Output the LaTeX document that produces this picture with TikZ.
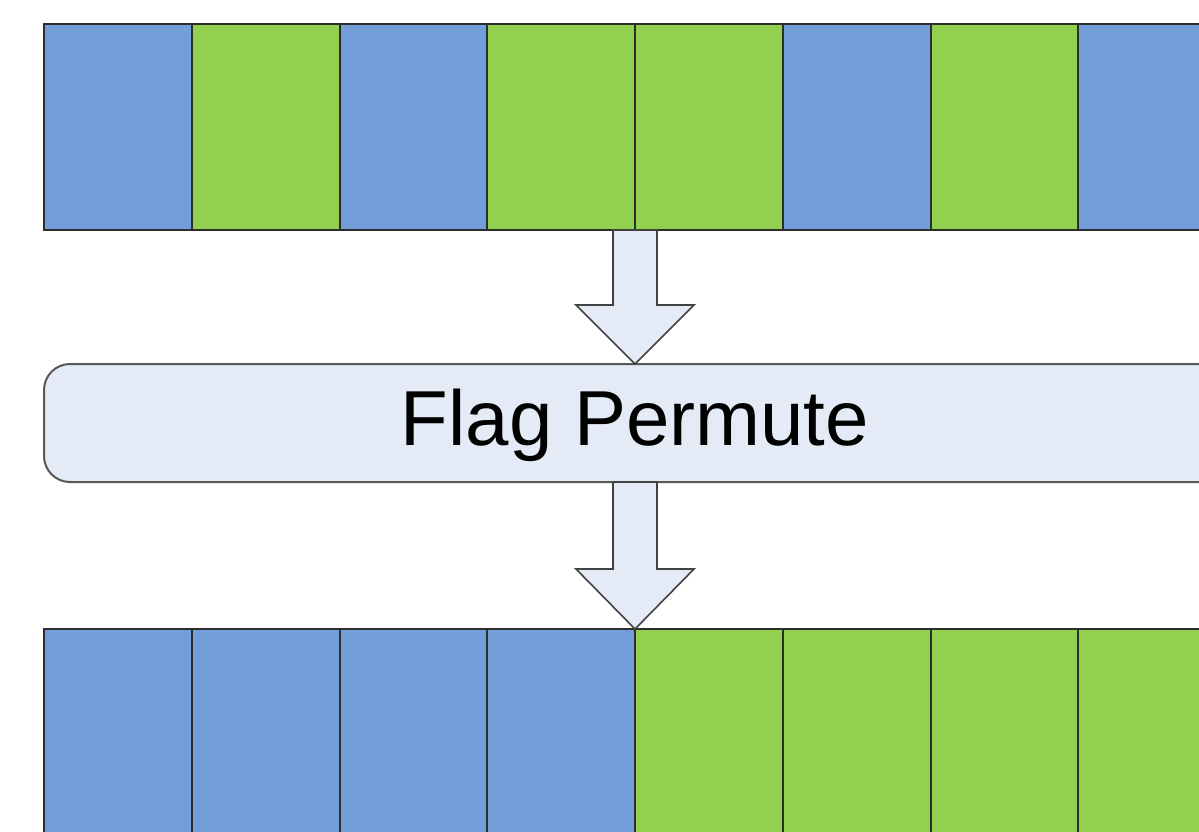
\documentclass[tikz,border=0pt]{standalone}
\usepackage{fontspec}
\setmainfont{Liberation Sans}
\usetikzlibrary{calc}
\definecolor{cblue}{RGB}{114,159,218}
\definecolor{cgreen}{RGB}{146,208,80}
\definecolor{cpale}{RGB}{229,235,246}
\definecolor{cedge}{RGB}{45,45,45}
\tikzset{
  cell/.style={draw=cedge, line width=2pt, minimum width=147.75pt, minimum height=206pt, inner sep=0pt, anchor=north west, outer sep=0pt},
  bluecell/.style={cell, fill=cblue},
  greencell/.style={cell, fill=cgreen},
  permbox/.style={draw=cedge!80, line width=2pt, fill=cpale, rounded corners=26pt, minimum width=1182pt, minimum height=118pt, anchor=north west, inner sep=0pt, outer sep=0pt},
  label/.style={font=\fontsize{78}{90}\selectfont, anchor=base, inner sep=0pt},
  blockarrow/.style={draw=cedge!90, line width=1.6pt, fill=cpale, line join=miter}
}
\begin{document}
\begin{tikzpicture}[x=1pt,y=-1pt]
\useasboundingbox (0,0) rectangle (1199,831);
\clip (0,0) rectangle (1199,831);
\fill[white] (0,0) rectangle (1199,831);
% top row
\node[bluecell]  (t1) at (44,24) {};
\node[greencell] (t2) at (191.75,24) {};
\node[bluecell]  (t3) at (339.5,24) {};
\node[greencell] (t4) at (487.25,24) {};
\node[greencell] (t5) at (635,24) {};
\node[bluecell]  (t6) at (782.75,24) {};
\node[greencell] (t7) at (930.5,24) {};
\node[bluecell]  (t8) at (1078.25,24) {};
% box
\node[permbox] (flag) at (44,364) {};
\node[label] (flagtext) at (635,445) {Flag Permute};
% bottom row
\node[bluecell]  (b1) at (44,629) {};
\node[bluecell]  (b2) at (191.75,629) {};
\node[bluecell]  (b3) at (339.5,629) {};
\node[bluecell]  (b4) at (487.25,629) {};
\node[greencell] (b5) at (635,629) {};
\node[greencell] (b6) at (782.75,629) {};
\node[greencell] (b7) at (930.5,629) {};
\node[greencell] (b8) at (1078.25,629) {};
% arrows
\coordinate (a1top) at (t4.south east);
\coordinate (a1tip) at (a1top |- flag.north);
\draw[blockarrow] ($(a1top)+(-22,0)$) -- ($(a1top)+(22,0)$) -- ($(a1top)+(22,75)$) -- ($(a1top)+(59,75)$) -- (a1tip) -- ($(a1top)+(-59,75)$) -- ($(a1top)+(-22,75)$) -- cycle;
\coordinate (a2top) at (a1top |- flag.south);
\coordinate (a2tip) at (b4.north east);
\draw[blockarrow] ($(a2top)+(-22,0)$) -- ($(a2top)+(22,0)$) -- ($(a2top)+(22,87)$) -- ($(a2top)+(59,87)$) -- (a2tip) -- ($(a2top)+(-59,87)$) -- ($(a2top)+(-22,87)$) -- cycle;
\end{tikzpicture}
\end{document}
